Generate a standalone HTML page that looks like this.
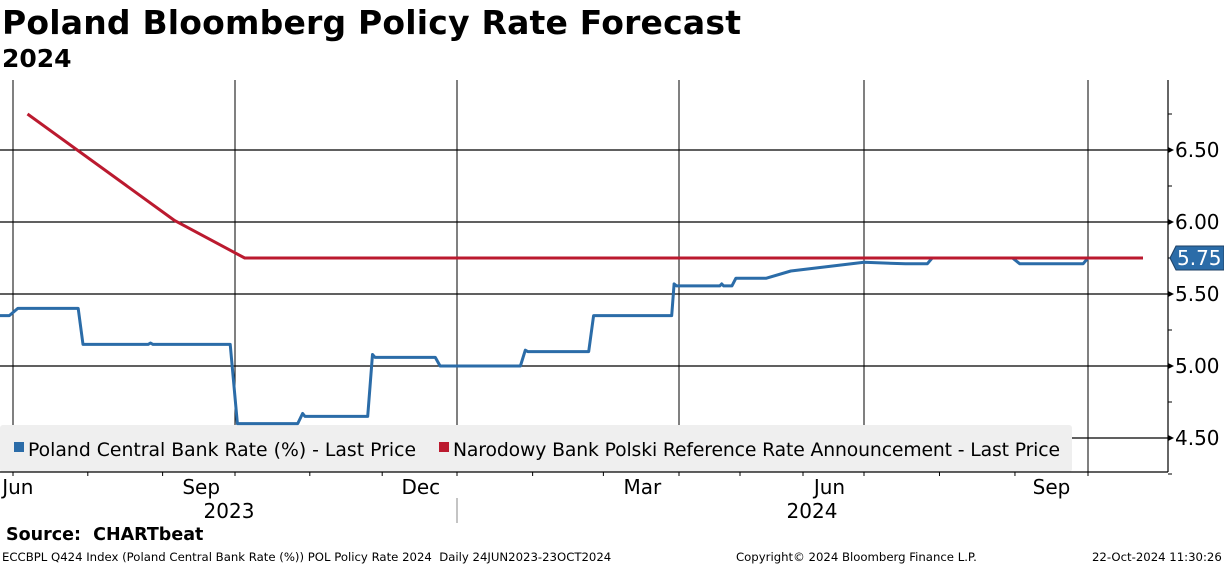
<!DOCTYPE html>
<html><head><meta charset="utf-8"><style>
body{margin:0;background:#fff;font-family:"Liberation Sans","DejaVu Sans",sans-serif;}
#wrap{position:relative;width:1224px;height:566px;overflow:hidden;}
.t{position:absolute;white-space:nowrap;color:#000;}
</style></head><body>
<div id="wrap">
<div class="t" style="left:2px;top:3px;font-size:33px;font-weight:bold;font-family:'DejaVu Sans',sans-serif;letter-spacing:0.2px">Poland Bloomberg Policy Rate Forecast</div>
<div class="t" style="left:2px;top:44px;font-size:25px;font-weight:bold;font-family:'DejaVu Sans',sans-serif">2024</div>
<svg id="chart" width="1224" height="566" style="position:absolute;left:0;top:0"></svg>
<div class="t" style="left:6px;top:525px;font-size:17.5px;font-weight:bold;font-family:'DejaVu Sans',sans-serif">Source:&nbsp; CHARTbeat</div>
<div class="t" style="left:2px;top:550px;font-size:11.7px;font-family:'DejaVu Sans',sans-serif">ECCBPL Q424 Index (Poland Central Bank Rate (%)) POL Policy Rate 2024&nbsp; Daily 24JUN2023-23OCT2024</div>
<div class="t" style="left:736px;top:550px;font-size:11.7px;font-family:'DejaVu Sans',sans-serif">Copyright© 2024 Bloomberg Finance L.P.</div>
<div class="t" style="left:1092px;top:550px;font-size:11.7px;font-family:'DejaVu Sans',sans-serif">22-Oct-2024 11:30:26</div>
</div>
<script>
const blueDates=["2023-06-24","2023-06-29","2023-07-03","2023-07-28","2023-07-30","2023-08-26","2023-08-27","2023-08-28","2023-09-29","2023-10-02","2023-10-27","2023-10-29","2023-10-30","2023-11-25","2023-11-27","2023-11-28","2023-12-23","2023-12-25","2024-01-27","2024-01-29","2024-01-30","2024-02-24","2024-02-26","2024-03-29","2024-03-30","2024-03-31","2024-04-21","2024-04-22","2024-04-23","2024-04-27","2024-04-29","2024-05-14","2024-05-26","2024-07-01","2024-07-18","2024-07-27","2024-07-29","2024-08-31","2024-09-03","2024-09-29","2024-10-01"];
const blueValues=[5.35,5.35,5.40,5.40,5.15,5.15,5.16,5.15,5.15,4.60,4.60,4.67,4.65,4.65,5.08,5.06,5.06,5.00,5.00,5.11,5.10,5.10,5.35,5.35,5.57,5.556,5.556,5.57,5.556,5.556,5.61,5.61,5.66,5.72,5.71,5.71,5.75,5.75,5.71,5.71,5.75];
const redDates=["2023-07-07","2023-09-06","2023-10-05","2024-10-23"];
const redValues=[6.75,6.01,5.75,5.75];
const yTicks=[4.50,5.00,5.50,6.00,6.50];
const monthLabels=["Jun","Sep","Dec","Mar","Jun","Sep"];
const monthLabelDates=["2023-07-03","2023-09-17","2023-12-17","2024-03-17","2024-06-14","2024-09-16"];
const gridDates=["2023-07-01","2023-10-01","2024-01-01","2024-04-01","2024-07-01","2024-10-01"];
const yearLabels=["2023","2024"];
const lastValue=5.75;

const NS="http://www.w3.org/2000/svg";
const svg=document.getElementById('chart');
const FONT='"DejaVu Sans",sans-serif';
const anchD=["2023-06-01","2023-06-24","2023-07-01","2023-10-01","2024-01-01","2024-04-01","2024-07-01","2024-10-01","2024-10-23"].map(d=>Date.parse(d));
const anchX=[-40,0,13,235,457,679,864,1088,1143];
function xs(d){const t=Date.parse(d);for(let i=0;i<anchD.length-1;i++){if(t<=anchD[i+1]||i==anchD.length-2){return anchX[i]+(t-anchD[i])/(anchD[i+1]-anchD[i])*(anchX[i+1]-anchX[i]);}}}
function ys(v){return 150+(6.5-v)*144;}
function mk(tag,attrs){const e=document.createElementNS(NS,tag);for(const k in attrs)e.setAttribute(k,attrs[k]);svg.appendChild(e);return e;}
const TOP=80,BOT=472,RIGHT=1168;
yTicks.forEach(v=>{
 const l=mk('line',{x1:0,x2:RIGHT,y1:ys(v),y2:ys(v),stroke:'#000','stroke-width':1.2});
 
 
 const tr=mk('polygon',{points:`${RIGHT},${ys(v)-3} ${RIGHT+6},${ys(v)} ${RIGHT},${ys(v)+3}`,fill:'#000'});
 
 
 const t=mk('text',{x:RIGHT+7,y:ys(v)+7,'font-size':20,'font-family':FONT,fill:'#000'});
 t.textContent=v.toFixed(2);
 
 
});
for(let v=4.25;v<=6.76;v+=0.5){const l=mk('line',{x1:RIGHT,x2:RIGHT+4,y1:ys(v),y2:ys(v),stroke:'#000'});
 
 }
gridDates.forEach(d=>{const l=mk('line',{x1:xs(d),x2:xs(d),y1:TOP,y2:BOT,stroke:'#000','stroke-width':1});
 
 });
const lg=mk('rect',{x:0,y:425,width:1072,height:47,rx:3,fill:'#efefef'});


const ax=mk('line',{x1:RIGHT,x2:RIGHT,y1:TOP,y2:BOT,stroke:'#000','stroke-width':1.2});


const bx=mk('line',{x1:0,x2:RIGHT,y1:BOT,y2:BOT,stroke:'#000','stroke-width':1.2});


for(let y=2023;y<=2024;y++)for(let m=1;m<=12;m++){const d=`${y}-${String(m).padStart(2,'0')}-01`;const t=Date.parse(d);if(t<anchD[1]||t>anchD[8])continue;
 const l=mk('line',{x1:xs(d),x2:xs(d),y1:BOT,y2:BOT+4,stroke:'#000'});
 
 }
function line(dates,vals,color,name){const p=dates.map((d,i)=>`${xs(d).toFixed(1)},${ys(vals[i]).toFixed(1)}`).join(' ');
 const e=mk('polyline',{points:p,fill:'none',stroke:color,'stroke-width':3,'stroke-linejoin':'round'});
 
 }
line(blueDates,blueValues,'#2b6ca8','series-poland-central-bank-rate');
line(redDates,redValues,'#bb1a2f','series-nbp-reference-rate');
const ly=ys(lastValue);
const tag=mk('polygon',{points:`${RIGHT+2},${ly} ${RIGHT+8},${ly-12} 1224,${ly-12} 1224,${ly+12} ${RIGHT+8},${ly+12}`,fill:'#2b6ca8',stroke:'#1d3f63'});


const tt=mk('text',{x:RIGHT+9,y:ly+7,'font-size':20,'font-family':FONT,fill:'#fff'});
tt.textContent=lastValue.toFixed(2);


const s1=mk('rect',{x:14,y:442,width:10,height:10,fill:'#2b6ca8'});


const l1=mk('text',{x:28,y:456,'font-size':18.8,'font-family':FONT,fill:'#000',textLength:388});
l1.textContent='Poland Central Bank Rate (%) - Last Price';


const s2=mk('rect',{x:439,y:442,width:10,height:10,fill:'#bb1a2f'});


const l2=mk('text',{x:453,y:456,'font-size':18.8,'font-family':FONT,fill:'#000',textLength:607});
l2.textContent='Narodowy Bank Polski Reference Rate Announcement - Last Price';


monthLabels.forEach((m,i)=>{const t=mk('text',{x:xs(monthLabelDates[i]),y:494,'font-size':20,'font-family':FONT,'text-anchor':'middle',fill:'#000'});
 t.textContent=m;
 
 });
[[229,yearLabels[0]],[812,yearLabels[1]]].forEach(([x,y])=>{const t=mk('text',{x:x,y:518,'font-size':20,'font-family':FONT,'text-anchor':'middle',fill:'#000'});
 t.textContent=y;
 
 });
const sep=mk('line',{x1:457,x2:457,y1:498,y2:523,stroke:'#888'});


</script>
</body></html>
